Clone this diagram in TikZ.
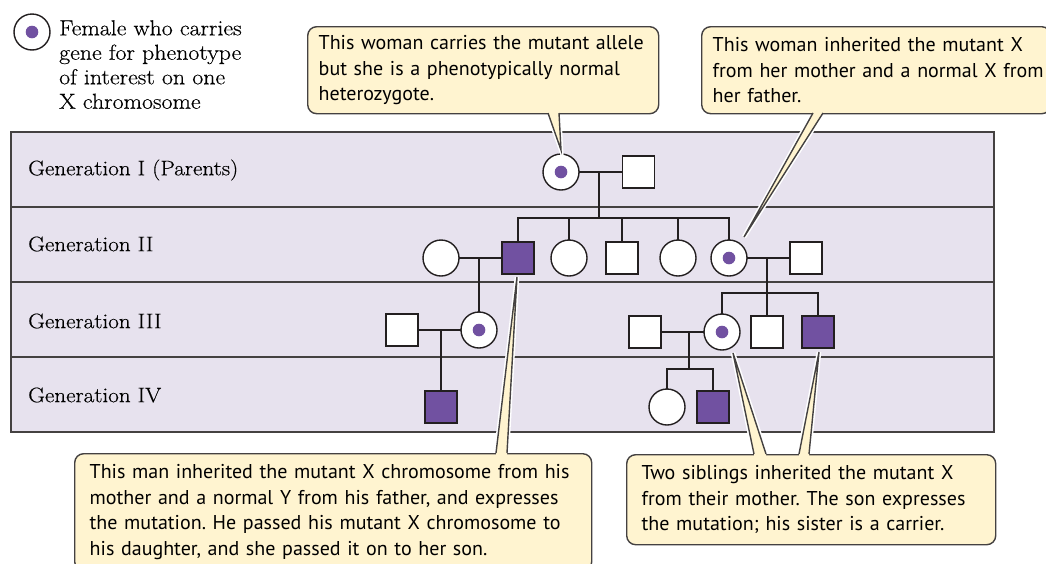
\documentclass[tikz,border=0pt]{standalone}
\usepackage{fontspec}
\newfontfamily\notefont{PT Sans}
\newfontfamily\labelfont[FakeStretch=1.1,FakeBold=0.4]{Latin Modern Roman}
\usetikzlibrary{calc}

\definecolor{bandfill}{HTML}{E7E2EE}
\definecolor{purp}{HTML}{7151A1}
\definecolor{notefill}{HTML}{FFF4D0}
\definecolor{ink}{HTML}{231F20}

\tikzset{
  sym/.style={draw=ink, line width=1.4pt, fill=white, inner sep=0pt, outer sep=0pt},
  male/.style={sym, rectangle, minimum size=32pt},
  female/.style={sym, circle, minimum size=36pt},
  affected/.style={male, fill=purp},
  carrier/.style={female, path picture={\fill[purp] (path picture bounding box.center) circle (6.3pt);}},
  kin/.style={draw=ink, line width=2.9pt},
  band/.style={draw=ink!85, line width=1.4pt},
  genlabel/.style={anchor=west, inner sep=0pt, font=\labelfont\fontsize{21}{24}\selectfont},
  note/.style={draw=ink!85, line width=1.4pt, fill=notefill, rounded corners=9pt,
    anchor=north west, align=left, inner ysep=3pt,
    font=\notefont\frenchspacing\fontsize{20}{25.5}\selectfont},
  halo/.style={white, line width=4.5pt},
  tailline/.style={draw=ink!85, line width=1.4pt},
}

% tail of a note: base point, tip, base point, shift into the box
\newcommand\notetail[4]{%
  \fill[notefill] ($(#1)+(0,#4)$) -- (#1) -- (#2) -- (#3) -- ($(#3)+(0,#4)$) -- cycle;
  \draw[tailline] (#1) -- (#2) -- (#3);
}

\begin{document}
\begin{tikzpicture}[x=1pt, y=-1pt]
  \useasboundingbox (0,0) rectangle (1046,563);

  % generation bands
  \fill[bandfill] (11,132) rectangle (994,432);
  \foreach \y in {207,282,357}
    \draw[band] (11,\y) -- (994,\y);
  \draw[band] (11,132) rectangle (994,432);

  \node[genlabel] (gen1) at (28,170) {Generation I (Parents)};
  \node[genlabel] (gen2) at (28,244) {Generation II};
  \node[genlabel] (gen3) at (28,321) {Generation III};
  \node[genlabel] (gen4) at (28,395) {Generation IV};

  % key
  \node[carrier] (key) at (32,32) {};
  \node[anchor=north west, inner sep=0pt, align=left,
    font=\labelfont\fontsize{21.7}{24.5}\selectfont] (keytext) at (59,20)
    {Female who carries\\gene for phenotype\\of interest on one\\X chromosome};

  % generation I
  \node[carrier] (g1f) at (561,172) {};
  \node[male] (g1m) at (638.5,172) {};
  % generation II
  \node[female] (w2) at (441,258) {};
  \node[affected] (a2) at (518,258) {};
  \node[female] (f2a) at (569,258) {};
  \node[male] (m2) at (622,258) {};
  \node[female] (f2b) at (678,258) {};
  \node[carrier] (c2) at (729,258) {};
  \node[male] (h2) at (806,258) {};
  % generation III
  \node[male] (h3) at (402,330) {};
  \node[carrier] (c3a) at (479,330) {};
  \node[male] (h3r) at (645,332) {};
  \node[carrier] (c3b) at (722,332) {};
  \node[male] (m3) at (767,332) {};
  \node[affected] (a3) at (818,332) {};
  % generation IV
  \node[affected] (a4a) at (441,407) {};
  \node[female] (f4) at (667,407) {};
  \node[affected] (a4b) at (713,407) {};

  % matings and sibships
  \coordinate (sib2) at (599,218);
  \coordinate (sib3) at (767,293);
  \coordinate (sib4) at (689,369);
  \draw[kin] (g1f) -- (g1m);
  \draw[kin] (sib2 |- g1m) -- (sib2);
  \draw[kin] (a2.north) -- (a2.north |- sib2) -- (c2.north |- sib2) -- (c2.north);
  \foreach \k in {f2a,m2,f2b}
    \draw[kin] (\k.north |- sib2) -- (\k.north);
  \draw[kin] (w2) -- (a2);
  \draw[kin] (c3a.north |- w2) -- (c3a.north);
  \draw[kin] (c2) -- (h2);
  \draw[kin] (sib3 |- h2) -- (m3.north);
  \draw[kin] (c3b.north) -- (c3b.north |- sib3) -- (a3.north |- sib3) -- (a3.north);
  \draw[kin] (h3) -- (c3a);
  \draw[kin] (a4a.north |- h3) -- (a4a.north);
  \draw[kin] (h3r) -- (c3b);
  \draw[kin] (sib4 |- h3r) -- (sib4);
  \draw[kin] (f4.north) -- (f4.north |- sib4) -- (a4b.north |- sib4) -- (a4b.north);

  % note tails
  \coordinate (t1a) at (548,113); \coordinate (t1) at (561,150); \coordinate (t1b) at (559,113);
  \coordinate (t2a) at (813,113); \coordinate (t2) at (744,237); \coordinate (t2b) at (823,113);
  \coordinate (t3a) at (496,453); \coordinate (t3) at (517,277); \coordinate (t3b) at (507,453);
  \coordinate (t4a) at (754,454); \coordinate (t4) at (733,353); \coordinate (t4b) at (766,454);
  \coordinate (t5a) at (799,454); \coordinate (t5) at (819,352); \coordinate (t5b) at (809,454);
  \foreach \t in {t1,t2,t3,t4,t5}
    \draw[halo] (\t a) -- (\t) -- (\t b);

  % notes
  \node[note, inner xsep=11pt, text width=329pt, minimum height=87pt] (note1) at (307,26)
    {This woman carries the mutant allele\\but she is a phenotypically normal\\heterozygote.};
  \node[note, inner xsep=11pt, text width=327pt, minimum height=87pt] (note2) at (701,26)
    {This woman inherited the mutant X\\\mbox{from her mother and a normal X from}\\her father.};
  \node[note, inner xsep=15pt, text width=487pt, minimum height=117pt] (note3) at (74,453)
    {This man inherited the mutant X chromosome from his\\mother and a normal Y from his father, and expresses\\the mutation. He passed his mutant X chromosome to\\his daughter, and she passed it on to her son.};
  \node[note, inner xsep=15pt, text width=339pt, minimum height=90pt] (note4) at (626,454)
    {Two siblings inherited the mutant X\\from their mother. The son expresses\\the mutation; his sister is a carrier.};

  \notetail{t1a}{t1}{t1b}{-3}
  \notetail{t2a}{t2}{t2b}{-3}
  \notetail{t3a}{t3}{t3b}{3}
  \notetail{t4a}{t4}{t4b}{3}
  \notetail{t5a}{t5}{t5b}{3}
\end{tikzpicture}
\end{document}
